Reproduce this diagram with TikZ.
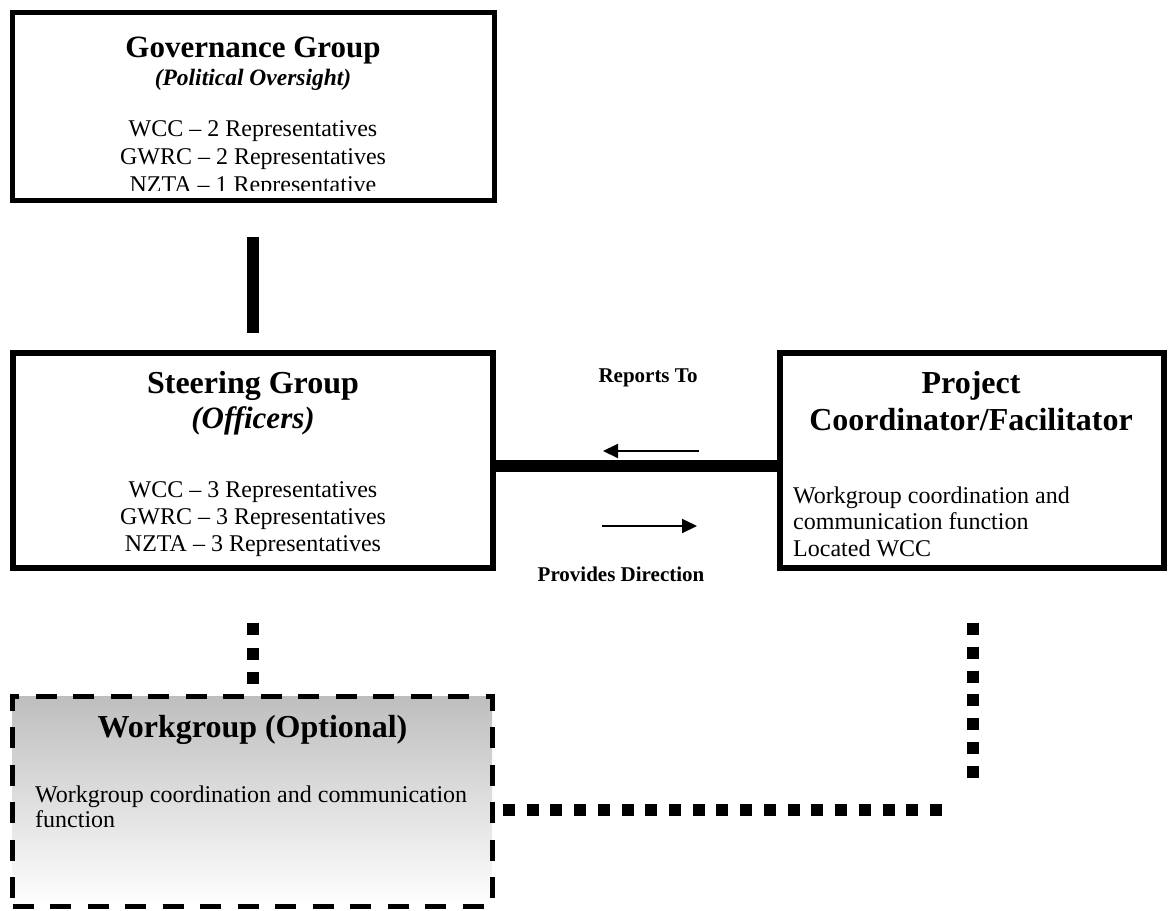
\documentclass[tikz,border=0pt]{standalone}
\usepackage{fontspec}
\setmainfont{Liberation Serif}
\usetikzlibrary{arrows.meta}
\definecolor{wgtop}{RGB}{190,190,190}
\tikzset{
  boxsolid/.style={draw, line width=#1, inner sep=0, minimum width=10pt, minimum height=10pt},
  ttl/.style={font=\bfseries\fontsize{32}{38}\selectfont, anchor=base, inner sep=0},
  ttlsmall/.style={font=\bfseries\fontsize{31}{37}\selectfont, anchor=base, inner sep=0},
  subttl/.style={font=\bfseries\itshape\fontsize{23.5}{28}\selectfont, anchor=base, inner sep=0},
  subttlbig/.style={font=\bfseries\itshape\fontsize{31}{37}\selectfont, anchor=base, inner sep=0},
  bodyc/.style={font=\fontsize{24}{28}\selectfont, anchor=base, inner sep=0},
  bodyl/.style={font=\fontsize{24}{28}\selectfont, anchor=base west, inner sep=0},
  lbl/.style={font=\bfseries\fontsize{21}{25}\selectfont, anchor=base, inner sep=0},
  thickcon/.style={line width=12pt, line cap=butt},
  dotcon/.style={line width=12pt, line cap=butt, dash pattern=on 12pt off #1},
  thinarrow/.style={line width=2pt, -{Triangle[length=15pt,width=14pt]}},
}
\begin{document}
\begin{tikzpicture}[x=1pt,y=-1pt]
\useasboundingbox (0,0) rectangle (1172,910);

% Governance group
\node[boxsolid=5pt, minimum width=482pt, minimum height=188pt] (gov) at (253.5,106.5) {};
\node[ttlsmall] (govt) at (253,57) {Governance Group};
\node[subttl] (govs) at (253,85) {(Political Oversight)};
\node[bodyc] (gov1) at (253,136) {WCC -- 2 Representatives};
\node[bodyc] (gov2) at (253,164) {GWRC -- 2 Representatives};
\begin{scope}
  \clip (15,15) rectangle (492,190);
  \node[bodyc] (gov3) at (253,192) {NZTA -- 1 Representative};
\end{scope}

% Steering group
\node[boxsolid=6pt, minimum width=480pt, minimum height=215pt] (steer) at (253,460.5) {};
\node[ttl] (steert) at (253,393) {Steering Group};
\node[subttlbig] (steers) at (253,428) {(Officers)};
\node[bodyc] (steer1) at (253,497) {WCC -- 3 Representatives};
\node[bodyc] (steer2) at (253,524) {GWRC -- 3 Representatives};
\node[bodyc] (steer3) at (253,551) {NZTA -- 3 Representatives};

% Project coordinator
\node[boxsolid=6pt, minimum width=384pt, minimum height=215pt] (proj) at (972,460.5) {};
\node[ttl] (projt1) at (971,393) {Project};
\node[ttl] (projt2) at (971,430) {Coordinator/Facilitator};
\node[bodyl] (proj1) at (793,503) {Workgroup coordination and};
\node[bodyl] (proj2) at (793,529.5) {communication function};
\node[bodyl] (proj3) at (793,556) {Located WCC};

% Workgroup
\node[draw, line width=5pt, dash pattern=on 21pt off 16.5pt, inner sep=0,
      top color=wgtop, bottom color=white,
      minimum width=479.5pt, minimum height=210pt] (wg) at (252.25,801) {};
\node[ttl] (wgt) at (252.5,737) {Workgroup (Optional)};
\node[bodyl] (wg1) at (35,802) {Workgroup coordination and communication};
\node[bodyl] (wg2) at (35,827) {function};

% Governance -- Steering connector
\coordinate (v1) at (253,237);
\coordinate (v2) at (253,333);
\draw[thickcon] (v1) -- (v2);

% Steering -- Project connector
\coordinate (hy) at (0,466);
\draw[thickcon] (steer.east |- hy) -- (proj.west |- hy);

% Arrows and labels
\node[lbl] (rep) at (648,382) {Reports To};
\coordinate (a1s) at (699,451);
\coordinate (a1e) at (603,451);
\draw[thinarrow] (a1s) -- (a1e);
\coordinate (a2s) at (602,526);
\coordinate (a2e) at (697,526);
\draw[thinarrow] (a2s) -- (a2e);
\node[lbl] (dir) at (621,581) {Provides Direction};

% Dotted connectors
\coordinate (d1a) at (253,623);
\coordinate (d1b) at (253,684);
\draw[dotcon=12.5pt] (d1a) -- (d1b);
\coordinate (d2a) at (973,623);
\coordinate (d2b) at (973,778);
\draw[dotcon=11.83pt] (d2a) -- (d2b);
\coordinate (d3a) at (942,809.5);
\coordinate (d3b) at (503,809.5);
\draw[dotcon=11.72pt] (d3b) -- (d3a);
\end{tikzpicture}
\end{document}
